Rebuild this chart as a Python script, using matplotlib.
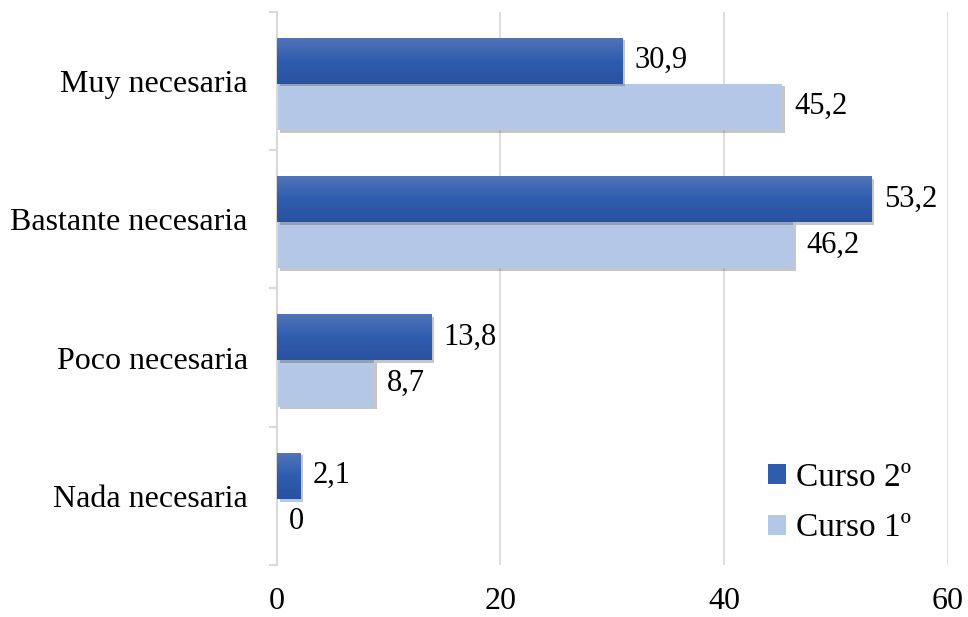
import matplotlib
matplotlib.use('Agg')
import matplotlib.pyplot as plt
import matplotlib.patheffects as pe
import numpy as np

categories = ['Muy necesaria', 'Bastante necesaria', 'Poco necesaria', 'Nada necesaria']
curso2 = [30.9, 53.2, 13.8, 2.1]
curso1 = [45.2, 46.2, 8.7, 0]
xticks = [0, 20, 40, 60]

plt.rcParams['font.family'] = ['Liberation Serif', 'DejaVu Serif']

dark = '#2F5DAE'
light = '#B4C7E7'
grid_col = '#D9D9D9'

fig = plt.figure(figsize=(9.68, 6.17), dpi=100)
ax = fig.add_axes([0.286, 0.084, 0.693, 0.897])

y = np.arange(len(categories))
h = 1 / 3
shadow = [pe.SimplePatchShadow(offset=(2, -2), shadow_rgbFace='#444444', alpha=0.3), pe.Normal()]

b2 = ax.barh(y - h / 2 + 0.02, curso2, height=h, color=dark, label='Curso 2º', zorder=3)
b1 = ax.barh(y + h / 2 + 0.02, curso1, height=h, color=light, label='Curso 1º', zorder=2)
for bars in (b2, b1):
    for bar in bars:
        if bar.get_width() > 0:
            bar.set_path_effects(shadow)

# gradient on the dark bars
grad = np.linspace(0, 1, 100).reshape(-1, 1)
cmap = matplotlib.colors.LinearSegmentedColormap.from_list('g', ['#5275BA', '#2F5DAE', '#2A52A0'])
for bar in b2:
    x0, y0 = bar.get_x(), bar.get_y()
    im = ax.imshow(grad, extent=[x0, x0 + bar.get_width(), y0 + bar.get_height(), y0],
                   aspect='auto', cmap=cmap, zorder=3.5, interpolation='bilinear')
    im.set_clip_path(bar)

def fmt(v):
    return ('%g' % v).replace('.', ',')

for bars, vals in ((b2, curso2), (b1, curso1)):
    for bar, v in zip(bars, vals):
        ax.annotate(fmt(v), (v, bar.get_y() + bar.get_height() / 2),
                    xytext=(9, 0), textcoords='offset points',
                    va='center', ha='left', fontsize=22)

ax.set_xlim(0, 60)
ax.set_ylim(3.5, -0.5)
ax.set_xticks(xticks)
ax.set_xticklabels([str(t) for t in xticks], fontsize=23)
ax.tick_params(axis='x', length=0, pad=16)
ax.set_yticks(y)
ax.set_yticklabels(categories, fontsize=23)
ax.tick_params(axis='y', which='major', length=0, pad=21)
ax.set_yticks(np.arange(-0.5, 4, 1), minor=True)
ax.tick_params(axis='y', which='minor', length=6, color=grid_col, width=1.5)

ax.grid(axis='x', color=grid_col, linewidth=1.2, zorder=0)
ax.set_axisbelow(True)
for s in ['top', 'right', 'bottom']:
    ax.spines[s].set_visible(False)
ax.spines['left'].set_color(grid_col)
ax.spines['left'].set_linewidth(1.5)

leg = ax.legend(loc='lower right', bbox_to_anchor=(0.99, -0.015), frameon=False,
                fontsize=24, handlelength=0.55, handleheight=0.55, handletextpad=0.3,
                labelspacing=0.6)
for hnd in leg.legend_handles:
    hnd.set_path_effects([])

fig.savefig('out.png', dpi=100)
